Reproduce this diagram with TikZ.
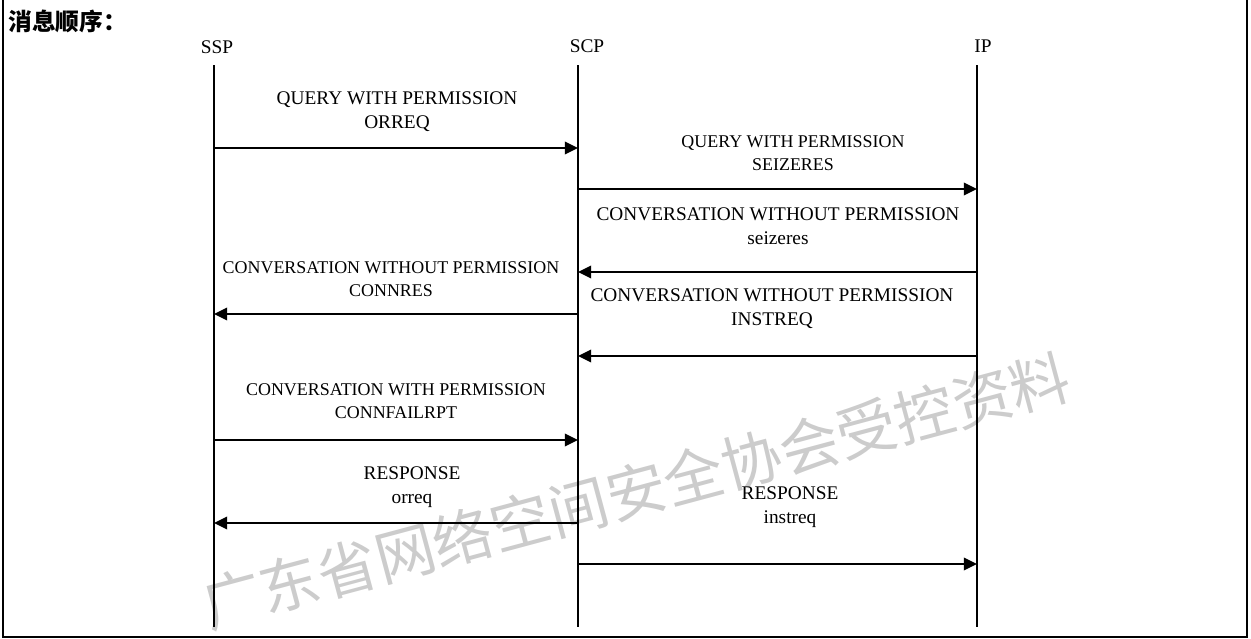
\documentclass[tikz,border=0pt]{standalone}
\usepackage{fontspec}
\setmainfont{Liberation Serif}
\newfontfamily\cjk{Noto Sans CJK SC}
\usetikzlibrary{arrows.meta}

\tikzset{
  lifeline/.style={line width=0.6pt},
  msg/.style={line width=1.5pt, -{Triangle[length=7.5pt,width=7pt]}},
  lbl/.style={align=center, inner sep=0pt, font=\fontsize{11}{13.5}\selectfont},
  lblsmall/.style={lbl, font=\fontsize{10.2}{13}\selectfont},
  party/.style={inner sep=0pt, font=\fontsize{11}{13}\selectfont}
}

\begin{document}
\begin{tikzpicture}[x=0.02cm, y=-0.02cm]
        \useasboundingbox (0,0) rectangle (1251,639);

        % watermark
        \node[rotate=15, text=gray!40, font=\cjk\fontsize{34}{34}\selectfont] (wm) at (636,491) {广东省网络空间安全协会受控资料};

        % frame
        \draw[line width=1.5pt] (3,0) -- (3,637) -- (1247,637) -- (1247,0);
        \node[anchor=west, inner sep=0pt, font=\cjk\bfseries\fontsize{13.5}{13.5}\selectfont] (title) at (8,21) {消息顺序：};

        % parties
        \node[party] (ssp) at (217,47) {SSP};
        \node[party] (scp) at (587,46) {SCP};
        \node[party] (ip) at (983,46) {IP};

        % lifelines
        \foreach \n/\x in {ssp/214, scp/578, ip/977} {
            \coordinate (\n-top) at (\x,65);
            \coordinate (\n-bot) at (\x,627);
            \draw[lifeline] (\n-top) -- (\n-bot);
            \foreach \y in {148,189,272,314,356,440,523,564}
                \coordinate (\n-\y) at (\x,\y);
        }

        % messages
        \draw[msg] (ssp-148) -- (scp-148); \node[lbl] (m1) at (397,112) {QUERY WITH PERMISSION\\ORREQ};
        \draw[msg] (scp-189) -- (ip-189); \node[lblsmall] (m2) at (793,153) {QUERY WITH PERMISSION\\SEIZERES};
        \draw[msg] (ip-272) -- (scp-272); \node[lbl] (m3) at (778,226) {CONVERSATION WITHOUT PERMISSION\\seizeres};
        \draw[msg] (scp-314) -- (ssp-314); \node[lblsmall] (m4) at (391,279) {CONVERSATION WITHOUT PERMISSION\\CONNRES};
        \draw[msg] (ip-356) -- (scp-356); \node[lbl] (m5) at (772,309) {CONVERSATION WITHOUT PERMISSION\\INSTREQ};
        \draw[msg] (ssp-440) -- (scp-440); \node[lblsmall] (m6) at (396,401) {CONVERSATION WITH PERMISSION\\CONNFAILRPT};
        \draw[msg] (scp-523) -- (ssp-523); \node[lbl] (m7) at (412,487) {RESPONSE\\orreq};
        \draw[msg] (scp-564) -- (ip-564); \node[lbl] (m8) at (790,507) {RESPONSE\\instreq};
    \end{tikzpicture}
\end{document}
